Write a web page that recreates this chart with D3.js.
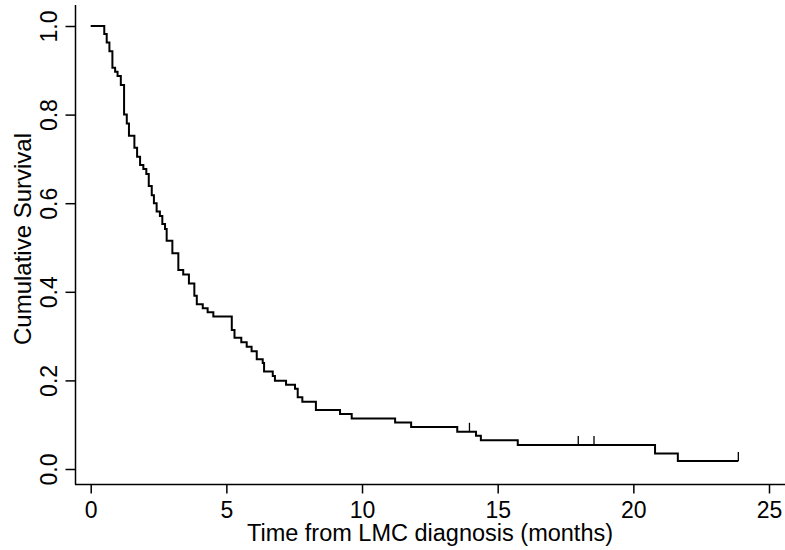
<!DOCTYPE html>
<html>
<head>
<meta charset="utf-8">
<script src="https://cdn.jsdelivr.net/npm/d3@7"></script>
<style>
  body { margin: 0; background: #fff; }
  svg { display: block; font-family: "Liberation Sans", Arial, sans-serif; }
</style>
</head>
<body>
<svg width="785" height="550"></svg>
<script>
// step times (months) and survival level after each step
const times = [0, 0.50, 0.59, 0.69, 0.80, 0.90, 0.99, 1.11, 1.23, 1.33, 1.41, 1.61, 1.71, 1.82, 1.94,
  2.05, 2.14, 2.25, 2.33, 2.43, 2.55, 2.64, 2.74, 2.80, 3.01, 3.23, 3.41, 3.62, 3.82, 3.91, 4.13,
  4.31, 4.52, 5.20, 5.30, 5.55, 5.75, 5.93, 6.12, 6.34, 6.39, 6.71, 6.79, 7.20, 7.53, 7.63, 7.80,
  8.30, 9.19, 9.62, 11.22, 11.81, 13.51, 14.20, 14.38, 15.74, 20.80, 21.64];
const survival = [1.0, 0.982, 0.963, 0.943, 0.906, 0.897, 0.887, 0.867, 0.800, 0.780, 0.752, 0.725, 0.705, 0.686, 0.677,
  0.666, 0.639, 0.618, 0.600, 0.581, 0.571, 0.553, 0.542, 0.515, 0.487, 0.449, 0.439, 0.419, 0.391, 0.372, 0.363,
  0.354, 0.344, 0.314, 0.296, 0.286, 0.276, 0.266, 0.248, 0.239, 0.220, 0.210, 0.199, 0.190, 0.181, 0.162, 0.152,
  0.133, 0.124, 0.114, 0.105, 0.095, 0.084, 0.075, 0.065, 0.054, 0.035, 0.018];
const lastTime = 23.87;
// censored observations
const censorTimes = [13.96, 17.97, 18.55, 23.87];

const xTicks = [0, 5, 10, 15, 20, 25];
const yTicks = [0, 0.2, 0.4, 0.6, 0.8, 1.0];

const svg = d3.select("svg");

const x = d3.scaleLinear().domain([0, 25]).range([90.7, 769]);
const y = d3.scaleLinear().domain([0, 1]).range([469, 26]);

// axis lines
svg.append("line")
    .attr("x1", 75.5).attr("x2", 75.5)
    .attr("y1", 5).attr("y2", 484.5)
    .attr("stroke", "#000").attr("stroke-width", 1.5);
svg.append("line")
    .attr("x1", 75).attr("x2", 785)
    .attr("y1", 484.5).attr("y2", 484.5)
    .attr("stroke", "#000").attr("stroke-width", 1.5);

// y axis
const yAxis = svg.append("g")
    .attr("transform", "translate(75.5,0)")
    .call(d3.axisLeft(y).tickValues(yTicks).tickSize(10).tickSizeOuter(0).tickFormat(d3.format(".1f")));
yAxis.select(".domain").remove();
yAxis.selectAll(".tick line").attr("stroke", "#000").attr("stroke-width", 1.5);
yAxis.selectAll(".tick text")
    .attr("x", null).attr("dy", null)
    .attr("transform", "translate(-19,0) rotate(-90)")
    .attr("text-anchor", "middle")
    .attr("font-size", 23)
    .attr("font-family", "Liberation Sans, Arial, sans-serif")
    .attr("fill", "#000");

// x axis
const xAxis = svg.append("g")
    .attr("transform", "translate(0,484.5)")
    .call(d3.axisBottom(x).tickValues(xTicks).tickSize(9).tickSizeOuter(0).tickFormat(d3.format("d")));
xAxis.select(".domain").remove();
xAxis.selectAll(".tick line").attr("stroke", "#000").attr("stroke-width", 1.5);
xAxis.selectAll(".tick text")
    .attr("y", 33).attr("dy", null)
    .attr("font-size", 23)
    .attr("font-family", "Liberation Sans, Arial, sans-serif")
    .attr("fill", "#000");

// axis titles
svg.append("text")
    .attr("x", 430).attr("y", 541)
    .attr("text-anchor", "middle")
    .attr("font-size", 23.5)
    .text("Time from LMC diagnosis (months)");
svg.append("text")
    .attr("transform", "translate(31,239) rotate(-90)")
    .attr("text-anchor", "middle")
    .attr("font-size", 24)
    .text("Cumulative Survival");

// survival curve
const pts = times.map((t, i) => [t, survival[i]]);
pts.push([lastTime, survival[survival.length - 1]]);
const line = d3.line()
    .x(d => x(d[0]))
    .y(d => y(d[1]))
    .curve(d3.curveStepAfter);
svg.append("path")
    .datum(pts)
    .attr("d", line)
    .attr("fill", "none")
    .attr("stroke", "#000")
    .attr("stroke-width", 2);

// level of curve at time t
function levelAt(t) {
  const i = d3.bisectRight(times, t) - 1;
  return survival[Math.max(0, i)];
}

svg.append("g").selectAll("line")
    .data(censorTimes)
    .enter().append("line")
    .attr("x1", d => x(d)).attr("x2", d => x(d))
    .attr("y1", d => y(levelAt(d)))
    .attr("y2", d => y(levelAt(d)) - 9)
    .attr("stroke", "#000")
    .attr("stroke-width", 1.3);
</script>
</body>
</html>
